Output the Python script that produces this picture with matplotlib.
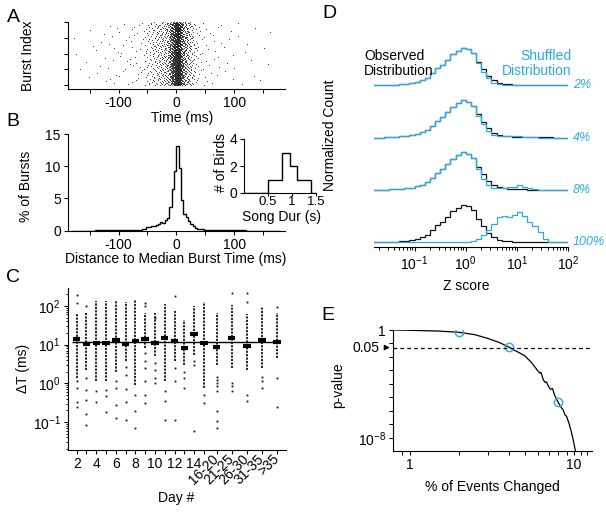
import numpy as np
import matplotlib
matplotlib.use('Agg')
import matplotlib.pyplot as plt
from matplotlib import ticker
import matplotlib.transforms as mtransforms

plt.rcParams['font.family'] = ['Liberation Sans', 'DejaVu Sans']
plt.rcParams['mathtext.fontset'] = 'custom'
plt.rcParams['mathtext.rm'] = 'Liberation Sans'
plt.rcParams['mathtext.it'] = 'Liberation Sans:italic'
plt.rcParams['mathtext.default'] = 'regular'
plt.rcParams['axes.unicode_minus'] = False
plt.rcParams['font.size'] = 10
plt.rcParams['axes.linewidth'] = 0.8
for a in ('xtick', 'ytick'):
    plt.rcParams[a + '.major.size'] = 3
    plt.rcParams[a + '.minor.size'] = 1.8
    plt.rcParams[a + '.major.width'] = 0.8
    plt.rcParams[a + '.minor.width'] = 0.7
    plt.rcParams[a + '.major.pad'] = 2
    plt.rcParams[a + '.labelsize'] = 10

BLUE = '#29abe2'

# ---------------- data ----------------
# B: % of bursts vs distance to median burst time (ms), variable-width bins
burst_edges = [-180, -160, -140, -120, -100, -80] + list(range(-60, 61, 4)) + [80, 100, 120, 140, 160, 180]
burst_pct = [0.02, 0.03, 0.05, 0.08, 0.10, 0.15,
             0.2, 0.3, 0.5, 0.5, 0.7, 0.8, 0.9, 1.1, 1.3, 1.2, 1.6, 2.0, 3.7, 6.4, 9.3,
             13.2, 9.8, 4.8, 2.6, 2.1, 1.5, 1.1, 0.7, 0.4, 0.3, 0.2, 0.2, 0.1, 0.1, 0.1,
             0.08, 0.05, 0.04, 0.03, 0.02, 0.01]

# B inset: song duration histogram
song_edges = [0.5, 0.65, 0.8, 0.95, 1.1, 1.25, 1.4]
song_birds = [1, 1, 3, 2, 1, 1]

# C: timing jitter per day
day_labels = ['2', '3', '4', '5', '6', '7', '8', '9', '10', '11', '12', '13', '14', '15',
              '16-20', '21-25', '26-30', '31-35', '>35']
median_dt = [13.7, 10.6, 11.3, 10.8, 13.2, 10.2, 12.7, 14.3, 11.1, 14.9, 12.7, 8.0, 18.9,
             10.8, 8.7, 14.9, 9.4, 13.5, 12.0]
dense_hi = [66, 66, 132, 132, 146, 127, 146, 66, 66, 113, 76, 44, 98, 127, 66, 108, 60, 92, 66]
dense_lo = [1.37, 2.25, 1.13, 1.13, 2.0, 3.7, 0.92, 8.2, 5.0, 1.13, 3.7, 3.0, 5.5, 0.76, 3.0,
            2.5, 2.25, 2.5, 4.5]
sparse_dt = [[196, 120, 1.13, 0.76, 0.33, 0.24],
             [98, 1.37, 0.68, 0.38, 0.16, 0.086],
             [0.62, 0.33],
             [0.68, 0.46, 0.18],
             [1.13, 0.76, 0.28, 0.13],
             [2.6, 1.67, 0.73, 0.33, 0.115],
             [0.51, 0.19, 0.071],
             [120, 98, 6.1, 3.7, 2.5, 1.13, 0.51, 0.31],
             [49, 3.4, 2.25, 1.37, 1.02],
             [0.62, 0.34, 0.115],
             [178, 2.5, 1.13, 0.115],
             [2.0, 1.37, 0.76],
             [3.7, 3.0, 0.059],
             [0.51, 0.31],
             [1.5, 1.24, 1.02, 0.83, 0.62, 0.19, 0.104, 0.071],
             [217, 1.02, 0.83, 0.62],
             [217, 127, 0.51, 0.34],
             [1.5, 1.13, 0.76],
             [92, 1.37, 0.25]]
grand_median = 12.0

# D: Z score distributions, bins of 0.1 decade from 10^-1.8 to 10^2
z_log_edges = np.round(np.arange(-1.8, 2.001, 0.1), 2)
observed = [0, 0, 0.01, 0.02, 0.02, 0.03, 0.04, 0.06, 0.10, 0.14, 0.20, 0.32, 0.45, 0.55, 0.68,
            0.82, 0.92, 1.0, 0.95, 0.85, 0.62, 0.42, 0.25, 0.13, 0.07, 0.04, 0.03, 0.02, 0.02,
            0.02, 0.01, 0.01, 0.01, 0.01, 0.01, 0, 0, 0]
shuf_2 = [0, 0, 0.01, 0.02, 0.02, 0.03, 0.04, 0.06, 0.10, 0.14, 0.20, 0.32, 0.45, 0.55, 0.68,
          0.82, 0.92, 1.0, 0.95, 0.85, 0.58, 0.36, 0.18, 0.06, 0.03, 0.01, 0.01, 0.01, 0.0,
          0.0, 0.0, 0.0, 0.0, 0.0, 0.0, 0, 0, 0]
shuf_4 = [0, 0, 0.01, 0.02, 0.02, 0.03, 0.04, 0.06, 0.10, 0.14, 0.20, 0.32, 0.45, 0.55, 0.68,
          0.82, 0.92, 1.0, 0.95, 0.85, 0.57, 0.35, 0.17, 0.07, 0.04, 0.03, 0.03, 0.04, 0.03,
          0.02, 0.01, 0.01, 0.0, 0.0, 0.0, 0, 0, 0]
shuf_8 = [0, 0, 0.01, 0.02, 0.02, 0.03, 0.04, 0.06, 0.10, 0.14, 0.20, 0.32, 0.45, 0.55, 0.68,
          0.82, 0.92, 1.0, 0.95, 0.85, 0.55, 0.30, 0.12, 0.06, 0.05, 0.06, 0.07, 0.09, 0.12,
          0.07, 0.04, 0.02, 0.01, 0.0, 0.0, 0, 0, 0]
shuf_100 = [0, 0, 0, 0, 0, 0, 0, 0, 0, 0, 0, 0, 0, 0, 0, 0, 0, 0,
            0.01, 0.04, 0.09, 0.18, 0.32, 0.48, 0.68, 0.70, 0.66, 0.72, 0.80, 0.70, 0.55,
            0.42, 0.26, 0.10, 0.02, 0, 0, 0]
shuf_labels = ['2%', '4%', '8%', '100%']
shuf_series = [shuf_2, shuf_4, shuf_8, shuf_100]

# E: p-value vs % of events changed
pct_changed = [0.8, 1.0, 1.5, 2.0, 2.5, 3.0, 3.5, 4.0, 4.5, 5.0, 5.5, 6.0, 6.2, 6.3, 6.5, 6.7,
               6.8, 7.0, 7.2, 7.4, 7.6, 7.8, 8.0, 8.3, 8.6, 8.8, 9.0, 9.3, 9.6, 9.9, 10.2]
log_p = [0, -0.02, -0.08, -0.17, -0.35, -0.63, -0.92, -1.26, -1.6, -1.9, -2.4, -3.0, -3.2,
         -3.15, -3.7, -3.9, -3.85, -4.2, -4.4, -4.35, -4.8, -5.1, -5.35, -5.7, -5.95, -6.3,
         -6.4, -6.9, -7.5, -8.2, -9.0]
marked_pct = [2.0, 4.0, 8.0]
marked_logp = [-0.17, -1.26, -5.36]

# ---------------- figure ----------------
W, H = 606, 512
fig = plt.figure(figsize=(W / 100, H / 100), dpi=100)


def rect(x0, y0, x1, y1):
    return [x0 / W, 1 - y1 / H, (x1 - x0) / W, (y1 - y0) / H]


def clean(ax):
    ax.spines['top'].set_visible(False)
    ax.spines['right'].set_visible(False)


def ftext(x, y, s, **kw):
    fig.text(x / W, 1 - y / H, s, ha='center', va='center', **kw)


def halton(i, base):
    f, r = 1.0, 0.0
    while i > 0:
        f /= base
        r += f * (i % base)
        i //= base
    return r


# --- A: raster, dots spread over the B histogram bins (Halton spacing)
axA = fig.add_axes(rect(67.7, 22, 285, 89))
clean(axA)
edges = np.array(burst_edges, float)
widths = np.diff(edges)
mass = np.array(burst_pct) * widths / 4
counts = np.round(mass / mass.sum() * 1900).astype(int)
xs, ys = [], []
k = 0
for lo, w, c in zip(edges[:-1], widths, counts):
    for j in range(c):
        k += 1
        xs.append(lo + halton(k, 3) * w)
        ys.append(halton(k, 2) * 100)
axA.plot(xs, ys, '.', ms=1.5, mew=0, color='#222222')
axA.set_xlim(-188, 188)
axA.set_ylim(-5.8, 100)
axA.set_yticks([0, 25, 50, 75, 100])
axA.set_yticklabels([])
axA.xaxis.set_major_locator(ticker.MultipleLocator(100))
axA.xaxis.set_minor_locator(ticker.MultipleLocator(50))
axA.tick_params(which='minor', length=3)
ftext(28, 56, 'Burst Index', rotation=90)
ftext(182, 118, 'Time (ms)')

# --- B
axB = fig.add_axes(rect(67.7, 134, 285, 230.7))
clean(axB)
axB.stairs(burst_pct, burst_edges, baseline=0, color='k', lw=1.0)
axB.set_xlim(-188, 188)
axB.set_ylim(0, 15)
axB.set_yticks([0, 5, 10, 15])
axB.xaxis.set_major_locator(ticker.MultipleLocator(100))
axB.xaxis.set_minor_locator(ticker.MultipleLocator(50))
axB.tick_params(which='minor', length=3)
ftext(26, 186, '% of Bursts', rotation=90)
ftext(176, 259, 'Distance to Median Burst Time (ms)')

axI = fig.add_axes(rect(244, 139, 316, 193))
clean(axI)
axI.stairs(song_birds, song_edges, baseline=0, color='k', lw=1.0)
axI.plot([0, 0.5], [0, 0], color='k', lw=1.0)
axI.plot([1.4, 1.5], [0, 0], color='k', lw=1.0)
axI.set_xlim(0, 1.5)
axI.set_ylim(0, 4)
axI.set_xticks([0.5, 1, 1.5])
axI.set_xticklabels(['0.5', '1', '1.5'])
axI.set_yticks([0, 2, 4])
axI.tick_params(axis='x', length=2, pad=0.5, labelsize=9.5)
ftext(221, 163, '# of Birds', rotation=90)
ftext(281, 217, 'Song Dur (s)')

# --- C
axC = fig.add_axes(rect(67.7, 288, 286, 450))
clean(axC)
xpos = np.r_[np.arange(2, 16), 16.3 + 1.55 * np.arange(5)]
axC.vlines(xpos, dense_lo, dense_hi, color='#111111', lw=1.3, linestyles=[(0, (1.2, 0.7))])
for x, vals in zip(xpos, sparse_dt):
    axC.plot([x] * len(vals), vals, 's', ms=1.3, mew=0, color='#111111')
axC.hlines(median_dt, xpos - 0.38, xpos + 0.38, color='k', lw=3)
axC.hlines(grand_median, 1.53, 22.8, color='k', lw=1.0)
axC.set_yscale('log')
axC.set_ylim(0.019, 290)
axC.set_xlim(1.08, 23.4)
axC.yaxis.set_major_locator(ticker.LogLocator(base=10, numticks=10))
axC.yaxis.set_minor_locator(ticker.LogLocator(base=10, subs=np.arange(2, 10), numticks=20))
axC.yaxis.set_major_formatter(ticker.LogFormatterMathtext())
axC.yaxis.set_minor_formatter(ticker.NullFormatter())
axC.set_xticks(xpos)
shown = [lab if (i < 14 and i % 2 == 0) or i >= 14 else '' for i, lab in enumerate(day_labels)]
axC.set_xticklabels(shown)
for i, t in enumerate(axC.get_xticklabels()):
    if i >= 14:
        t.set_rotation(45)
        t.set_ha('right')
        t.set_va('center')
        t.set_rotation_mode('anchor')
ftext(23, 368, 'ΔT (ms)', rotation=90)
ftext(176, 498, 'Day #')

# --- D
axD = fig.add_axes(rect(374, 40, 568.3, 247.3))
for s in ('top', 'right', 'left'):
    axD.spines[s].set_visible(False)
z_edges = 10.0 ** z_log_edges
obs = np.array(observed)
blend = mtransforms.blended_transform_factory(axD.transAxes, axD.transData)
for i, (lab, sh) in enumerate(zip(shuf_labels, shuf_series)):
    off = 3 - i
    axD.stairs(off + 0.72 * obs, z_edges, baseline=None, color='#111111', lw=0.9)
    axD.stairs(off + 0.72 * np.array(sh), z_edges, baseline=None, color=BLUE, lw=0.9)
    axD.text(1.025, off, lab, transform=blend, color=BLUE, style='italic', va='center',
             ha='left', fontsize=9)
axD.set_xscale('log')
axD.set_xlim(10 ** -1.79, 100)
axD.set_ylim(-0.096, 3.865)
axD.set_yticks([])
axD.xaxis.set_major_locator(ticker.LogLocator(base=10, numticks=10))
axD.xaxis.set_minor_locator(ticker.LogLocator(base=10, subs=np.arange(2, 10), numticks=20))
axD.xaxis.set_major_formatter(ticker.LogFormatterMathtext())
axD.xaxis.set_minor_formatter(ticker.NullFormatter())
axD.text(-0.05, 3.41, 'Observed\nDistribution', transform=blend, ha='left', va='center',
         color='k', linespacing=1.1)
axD.text(1.014, 3.41, 'Shuffled\nDistribution', transform=blend, ha='right', va='center',
         color=BLUE, linespacing=1.1)
ftext(330, 135, 'Normalized Count', rotation=90)
ftext(466, 286, 'Z score')

# --- E
axE = fig.add_axes(rect(392.7, 330, 591.7, 451))
clean(axE)
axE.plot(pct_changed, 10.0 ** np.array(log_p), color='k', lw=0.9)
axE.plot(marked_pct, 10.0 ** np.array(marked_logp), 'o', ms=6, mfc='none', mec=BLUE, mew=1.0)
axE.axhline(0.05, color='k', lw=0.9, ls=(0, (3, 2.5)))
axE.set_xscale('log')
axE.set_yscale('log')
axE.set_xlim(0.79, 12.8)
axE.set_ylim(10 ** -8.98, 1)
ydec = 10.0 ** np.arange(0, -9, -1)
axE.yaxis.set_major_locator(ticker.FixedLocator(ydec))
axE.yaxis.set_minor_locator(ticker.NullLocator())
axE.set_yticklabels(['1'] + [''] * 7 + ['$10^{-8}$'])
axE.xaxis.set_major_locator(ticker.FixedLocator([1, 10]))
axE.xaxis.set_minor_locator(ticker.FixedLocator([0.9, 2, 3, 4, 5, 6, 7, 8, 9, 11, 12]))
axE.xaxis.set_major_formatter(ticker.FixedFormatter(['1', '10']))
axE.xaxis.set_minor_formatter(ticker.NullFormatter())
axE.tick_params(axis='x', which='minor', length=3)
blendE = mtransforms.blended_transform_factory(axE.transAxes, axE.transData)
axE.annotate('', xy=(0, 0.05), xycoords=blendE, xytext=(-0.05, 0.05), textcoords=blendE,
             arrowprops=dict(arrowstyle='-|>', color='k', lw=0.8, mutation_scale=8))
axE.text(-0.065, 0.05, '0.05', transform=blendE, ha='right', va='center')
ftext(338, 385, 'p-value', rotation=90)
ftext(492, 487, '% of Events Changed')

# panel letters
for lab, x, y in [('A', 13, 17), ('B', 13, 122), ('C', 13, 277), ('D', 329, 14), ('E', 328, 316)]:
    ftext(x, y, lab, fontsize=14)

fig.savefig('out.png', dpi=100)
